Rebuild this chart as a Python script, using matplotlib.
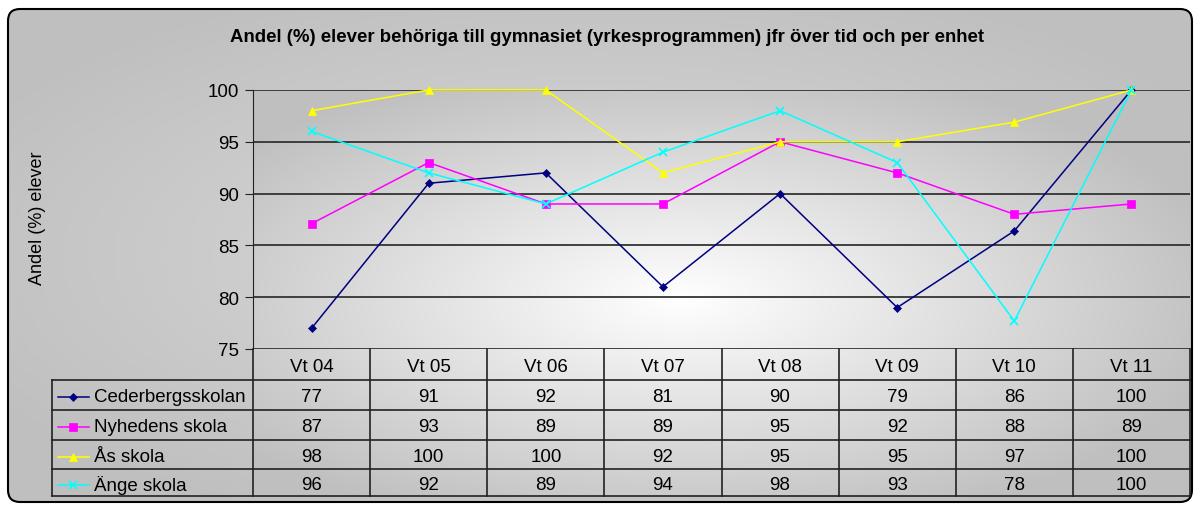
import matplotlib.pyplot as plt
import numpy as np
from matplotlib.patches import FancyBboxPatch

plt.rcParams['font.family'] = ['Liberation Sans', 'DejaVu Sans']

# data
categories = ['Vt 04', 'Vt 05', 'Vt 06', 'Vt 07', 'Vt 08', 'Vt 09', 'Vt 10', 'Vt 11']
cederberg = [77, 91, 92, 81, 90, 79, 86.4, 100]
nyhedens = [87.1, 93, 89, 89, 95, 92, 88, 89]
as_skola = [98, 100, 100, 92, 95, 95, 96.9, 100]
ange = [96, 92, 89, 94, 98, 93, 77.7, 100]

series_names = ['Cederbergsskolan', 'Nyhedens skola', 'Ås skola', 'Änge skola']
series_values = [cederberg, nyhedens, as_skola, ange]
series_colors = ['#000080', '#ff00ff', '#ffff00', '#00ffff']
series_markers = ['D', 's', '^', 'x']
marker_sizes = [4, 5.5, 6, 6]

W, H = 1197, 506
fig = plt.figure(figsize=(W / 100, H / 100), dpi=100)
fig.patch.set_facecolor('white')

# background layer in pixel coordinates
bg = fig.add_axes([0, 0, 1, 1], zorder=-10)
bg.axis('off')


def radial(x0, x1, y0, y1, c_in, c_out, cx=None, cy=None):
    xs = np.linspace(x0, x1, 300)
    ys = np.linspace(y0, y1, 150)
    X, Y = np.meshgrid(xs, ys)
    cx = (x0 + x1) / 2 if cx is None else cx
    cy = (y0 + y1) / 2 if cy is None else cy
    r = np.sqrt(((X - cx) / ((x1 - x0) / 2)) ** 2 + ((Y - cy) / ((y1 - y0) / 2)) ** 2)
    r = np.clip(r / 1.2, 0, 1)
    v = c_in + (c_out - c_in) * r
    return np.dstack([v, v, v])


frame = FancyBboxPatch((8, 10), 1184, 493, boxstyle="round,pad=0,rounding_size=12",
                       fc='none', ec='black', lw=1.5, zorder=5)
bg.add_patch(frame)
img = bg.imshow(radial(8, 1192, 10, 503, 0.86, 0.75), extent=(8, 1192, 503, 10),
                aspect='auto', zorder=1)
img.set_clip_path(frame)
bg.imshow(radial(253, 1190, 91, 497, 1.0, 0.75, cx=680, cy=300),
          extent=(253, 1190, 497, 91), aspect='auto', zorder=2)
bg.set_xlim(0, W)
bg.set_ylim(H, 0)

# main plot
ax = fig.add_axes([253 / W, 1 - 350 / H, 937 / W, 259 / H])
ax.set_facecolor('none')
x = np.arange(len(categories))
for vals, col, mk, ms in zip(series_values, series_colors, series_markers, marker_sizes):
    ax.plot(x, vals, color=col, marker=mk, markersize=ms, lw=1.1,
            markeredgewidth=1.2 if mk == 'x' else 0.5, clip_on=False)
ax.set_xlim(-0.5, len(categories) - 0.5)
ax.set_ylim(75, 100)
ax.set_yticks([75, 80, 85, 90, 95, 100])
ax.yaxis.grid(True, color='#333333', lw=1.3)
ax.set_axisbelow(True)
ax.set_xticks([])
for s in ['top', 'right', 'bottom']:
    ax.spines[s].set_visible(False)
ax.spines['left'].set_color('#222222')
ax.tick_params(axis='y', labelsize=13.5, length=6, color='#222222', pad=4)

fig.text(607 / W, 1 - 38 / H, 'Andel (%) elever behöriga till gymnasiet (yrkesprogrammen) jfr över tid och per enhet',
         ha='center', va='center', fontsize=13.4, fontweight='bold')
fig.text(37 / W, 1 - 218 / H, 'Andel (%) elever', rotation=90, ha='center', va='center', fontsize=13)

# data table, y in pixels
row_edges = [350, 381, 411, 441, 470, 497]
tax = fig.add_axes([52 / W, 1 - 497 / H, (1190 - 52) / W, 147 / H])
tax.axis('off')
unit = 937 / len(categories)
left = -0.5 - 201 / unit
tax.set_xlim(left, len(categories) - 0.5)
tax.set_ylim(497, 350)
lc = '#222222'


def px(off):
    return left + off / unit


for r in range(1, 6):
    tax.plot([left, len(categories) - 0.5], [row_edges[r]] * 2, color=lc, lw=1.2, clip_on=False)
tax.plot([left, left], [row_edges[1], row_edges[5]], color=lc, lw=1.2, clip_on=False)
for c in range(len(categories) + 1):
    tax.plot([c - 0.5, c - 0.5], [row_edges[0], row_edges[5]], color=lc, lw=1.2, clip_on=False)


def row_mid(r):
    return (row_edges[r] + row_edges[r + 1]) / 2 + 2


for i, cat in enumerate(categories):
    tax.text(i, row_mid(0), cat, ha='center', va='center', fontsize=13.5)
for r, (name, vals, col, mk, ms) in enumerate(zip(series_names, series_values, series_colors,
                                                  series_markers, marker_sizes)):
    yy = row_mid(r + 1)
    tax.plot([px(6), px(37)], [yy, yy], color=col, lw=1.1)
    tax.plot([px(21)], [yy], color=col, marker=mk, markersize=ms,
             markeredgewidth=1.2 if mk == 'x' else 0.5)
    tax.text(px(42), yy, name, ha='left', va='center', fontsize=13.5)
    for i, v in enumerate(vals):
        tax.text(i, yy, f'{v:.0f}', ha='center', va='center', fontsize=13.5)

fig.savefig('out.png', dpi=100)
